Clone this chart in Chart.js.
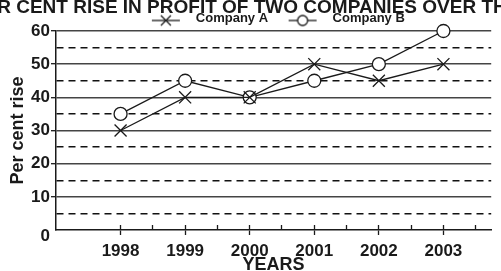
<!DOCTYPE html>
<html><head><meta charset="utf-8">
<script src="https://cdn.jsdelivr.net/npm/chart.js@4/dist/chart.umd.min.js"></script>
<style>html,body{margin:0;padding:0;background:#fff;overflow:hidden}</style>
</head><body>
<canvas id="c" width="501" height="271"></canvas>
<script>
const years = [1998, 1999, 2000, 2001, 2002, 2003];
const companyA = [30, 40, 40, 50, 45, 50];
const companyB = [35, 45, 40, 45, 50, 60];
const seriesNames = ['Company A', 'Company B'];
const yTickValues = [0, 5, 10, 15, 20, 25, 30, 35, 40, 45, 50, 55, 60];
const titleText = 'PER CENT RISE IN PROFIT OF TWO COMPANIES OVER THE YEARS';
const xTitleText = 'YEARS';
const yTitleText = 'Per cent rise';

const FONT = "'Liberation Sans', Arial, sans-serif";
const INK = '#1a1a1a';
const xMin = 1997, xMax = 2003.74;
const xTicks = years.flatMap(v => [v, v + 0.5]);

function legendIcon(kind) {
  const c = document.createElement('canvas');
  c.width = 30; c.height = 18;
  const g = c.getContext('2d');
  g.strokeStyle = INK; g.lineWidth = 1.3;
  const cy = 11;
  g.beginPath(); g.moveTo(1, cy); g.lineTo(29, cy); g.stroke();
  if (kind === 'A') {
    g.beginPath();
    g.moveTo(10, cy - 5); g.lineTo(20, cy + 5);
    g.moveTo(20, cy - 5); g.lineTo(10, cy + 5);
    g.stroke();
  } else {
    g.beginPath(); g.arc(15, cy, 5, 0, Math.PI * 2);
    g.fillStyle = '#fff'; g.fill(); g.stroke();
  }
  return c;
}
const icons = [legendIcon('A'), legendIcon('B')];

const cutTitle = {
  id: 'cutTitle',
  afterDraw(chart) {
    const ctx = chart.ctx;
    ctx.save();
    ctx.font = 'bold 19px ' + FONT;
    ctx.fillStyle = INK;
    ctx.textAlign = 'center';
    ctx.textBaseline = 'alphabetic';
    ctx.fillText(titleText, 281, 13);
    ctx.restore();
  }
};

new Chart(document.getElementById('c'), {
  type: 'line',
  data: {
    datasets: [
      {
        label: seriesNames[0],
        data: years.map((y, i) => ({x: y, y: companyA[i]})),
        borderColor: INK, borderWidth: 1.3,
        pointStyle: 'crossRot', pointRadius: 8.5, pointBorderWidth: 1.3,
        pointBorderColor: INK, pointBackgroundColor: INK,
        tension: 0, clip: false, xAxisID: 'x'
      },
      {
        label: seriesNames[1],
        data: years.map((y, i) => ({x: y, y: companyB[i]})),
        borderColor: INK, borderWidth: 1.3,
        pointStyle: 'circle', pointRadius: 6.5, pointBorderWidth: 1.3,
        pointBorderColor: INK, pointBackgroundColor: '#fff',
        tension: 0, clip: false, xAxisID: 'x'
      }
    ]
  },
  options: {
    responsive: false,
    animation: false,
    devicePixelRatio: 1,
    layout: {padding: {top: 1, left: 0, right: 0, bottom: 0}},
    plugins: {
      title: {display: false},
      tooltip: {enabled: false},
      legend: {
        display: true,
        position: 'top',
        fullSize: false,
        maxHeight: 30,
        labels: {
          usePointStyle: true,
          pointStyleWidth: 47,
          boxHeight: 13,
          padding: 11,
          color: INK,
          font: {family: FONT, size: 13, weight: 'bold'},
          generateLabels: (chart) => chart.data.datasets.map((ds, i) => ({
            text: ds.label, pointStyle: icons[i], fillStyle: '#fff',
            strokeStyle: INK, lineWidth: 0, hidden: false, datasetIndex: i, fontColor: INK
          }))
        }
      }
    },
    scales: {
      x: {
        type: 'linear', position: 'bottom', min: xMin, max: xMax,
        afterBuildTicks: s => { s.ticks = xTicks.map(v => ({value: v})); },
        afterFit: s => { s.height = 41; },
        ticks: {
          autoSkip: false, maxRotation: 0, padding: 6, color: INK,
          font: {family: FONT, size: 17, weight: 'bold'},
          callback: v => Number.isInteger(v) ? String(v) : ''
        },
        grid: {
          display: true, drawOnChartArea: false, drawTicks: true, tickLength: 5,
          tickWidth: 1.3,
          tickColor: c => (c.tick && Number.isInteger(c.tick.value)) ? INK : 'rgba(0,0,0,0)'
        },
        border: {display: true, color: INK, width: 1.5},
        title: {
          display: true, text: xTitleText, color: INK,
          font: {family: FONT, size: 18, weight: 'bold', lineHeight: 1},
          padding: {top: 0, bottom: -3}
        }
      },
      x2: {
        type: 'linear', position: {y: 0}, min: xMin, max: xMax,
        afterBuildTicks: s => { s.ticks = xTicks.map(v => ({value: v})); },
        ticks: {display: false, autoSkip: false},
        grid: {display: true, drawOnChartArea: false, drawTicks: true, tickLength: -5, tickWidth: 1.3, tickColor: INK},
        border: {display: false}
      },
      y: {
        type: 'linear', position: 'left', min: 0, max: 60,
        afterBuildTicks: s => { s.ticks = yTickValues.map(v => ({value: v})); },
        afterFit: s => { s.width = 56; },
        ticks: {
          autoSkip: false, padding: 1, color: INK,
          font: c => ({family: FONT, size: 17, weight: 'bold', lineHeight: (c.tick && c.tick.value === 0) ? 0.8 : 1.2}),
          callback: v => v === 0 ? ['', '0'] : ((v % 10 === 0) ? String(v) : '')
        },
        grid: {
          display: true, drawOnChartArea: true, drawTicks: true, tickLength: 5,
          lineWidth: 1.4,
          color: c => (c.tick && c.tick.value === 0) ? 'rgba(0,0,0,0)' : (c.tick && c.tick.value % 10 === 5 ? '#111' : '#444'),
          tickWidth: 1.3,
          tickColor: c => (c.tick && c.tick.value % 10 === 0 && c.tick.value !== 0) ? INK : 'rgba(0,0,0,0)'
        },
        border: {
          display: true, color: INK, width: 1.5,
          dash: c => (c.tick && c.tick.value % 10 === 5) ? [7, 5] : []
        },
        title: {
          display: true, text: yTitleText, color: INK,
          font: {family: FONT, size: 18, weight: 'bold', lineHeight: 1.2},
          padding: {top: 7, bottom: 0}
        }
      }
    }
  },
  plugins: [cutTitle]
});
</script>
</body></html>
